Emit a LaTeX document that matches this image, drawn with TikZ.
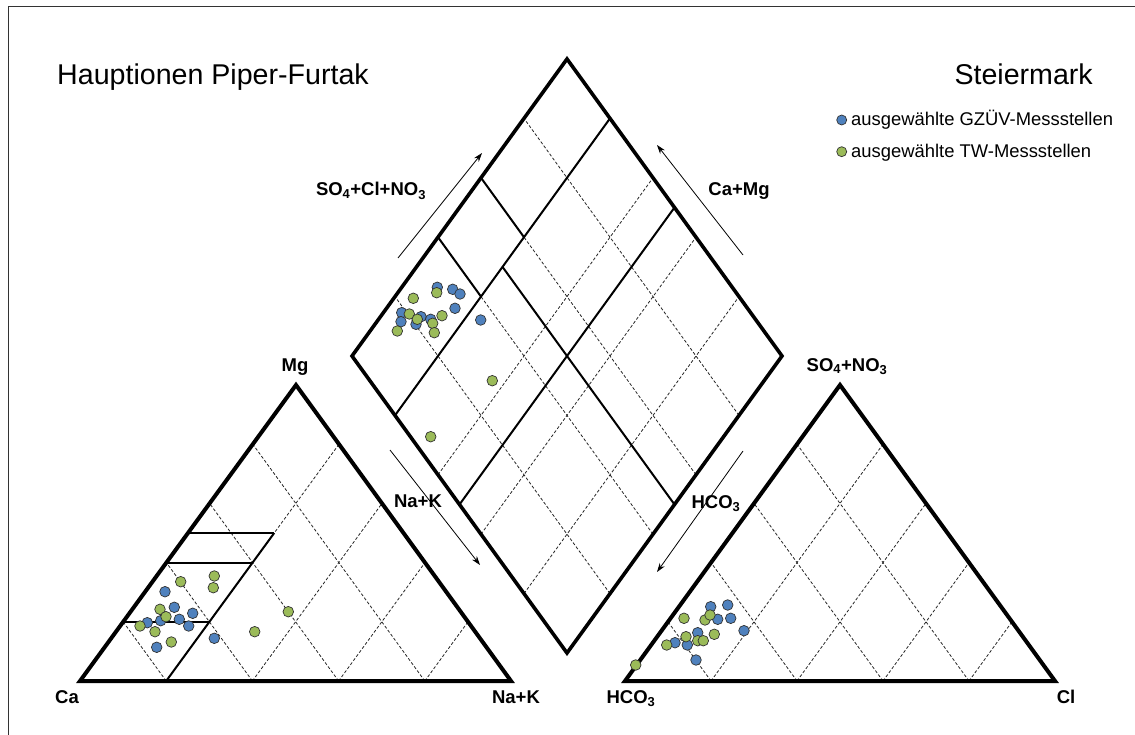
\documentclass[tikz,border=0pt]{standalone}
\usepackage{fontspec}
\setmainfont{Liberation Sans}
\usetikzlibrary{arrows.meta,calc}
\definecolor{gzblue}{HTML}{4F81BD}
\definecolor{twgreen}{HTML}{9BBB59}
\begin{document}
\begin{tikzpicture}[x=1pt,y=-1pt,
  edge/.style={line width=4pt,line join=miter},
  dedge/.style={line width=3.6pt,line join=miter},
  field/.style={line width=2pt},
  gridline/.style={line width=0.8pt,dash pattern=on 3pt off 2pt,black!85},
  axarrow/.style={line width=0.8pt,-{Stealth[length=9pt,width=6pt]}},
  lab/.style={font=\fontsize{18.5}{22}\selectfont\bfseries,inner sep=0pt},
  gz/.style={circle,draw=black!80,line width=0.7pt,fill=gzblue,minimum size=10.6pt,inner sep=0pt},
  tw/.style={circle,draw=black!80,line width=0.7pt,fill=twgreen,minimum size=10.6pt,inner sep=0pt},
  leg/.style={font=\fontsize{18.4}{22}\selectfont,inner sep=0pt,anchor=base west}]
\useasboundingbox (0,0) rectangle (1135,735);
\fill[white] (0,0) rectangle (1135,735);
% frame
\draw[line width=1pt,black!80] (8,735) -- (8,7) -- (1135,7);

% ---------- left triangle (Ca - Na+K - Mg) ----------
\begin{scope}[shift={(80,681)},x={(431pt,0pt)},y={(216pt,296pt)}]
  \coordinate (LA) at (0,0);
  \coordinate (LB) at (1,0);
  \coordinate (LC) at (0,1);
  \foreach \f in {0.2,0.4,0.6,0.8}{
    \draw[gridline] (\f,0) -- (0,\f);
    \draw[gridline] (\f,0) -- (\f,{1-\f});
  }
  \draw[field] (0.2,0) -- (0.2,0.5);
  \draw[field] (0,0.2) -- (0.2,0.2);
  \draw[field] (0,0.4) -- (0.2,0.4);
  \draw[field] (0,0.5) -- (0.2,0.5);
  \draw[edge] (LA) -- (LB) -- (LC) -- cycle;
\end{scope}

% ---------- right triangle (HCO3 - Cl - SO4+NO3) ----------
\begin{scope}[shift={(625,681)},x={(430pt,0pt)},y={(215pt,296pt)}]
  \coordinate (RA) at (0,0);
  \coordinate (RB) at (1,0);
  \coordinate (RC) at (0,1);
  \foreach \f in {0.2,0.4,0.6,0.8}{
    \draw[gridline] (\f,0) -- (0,\f);
    \draw[gridline] (\f,0) -- (\f,{1-\f});
  }
  \draw[edge] (RA) -- (RB) -- (RC) -- cycle;
\end{scope}

% ---------- diamond ----------
\begin{scope}[shift={(567,653)},x={(215pt,297pt)},y={(-215pt,297pt)}]
  \coordinate (DB) at (0,0);
  \coordinate (DR) at (1,0);
  \coordinate (DT) at (1,1);
  \coordinate (DL) at (0,1);
  \foreach \f in {0.2,0.4,0.6,0.8}{
    \draw[gridline] (\f,0) -- (\f,1);
    \draw[gridline] (0,\f) -- (1,\f);
  }
  \draw[field] (0,0.8) -- (1,0.8);
  \draw[field] (0,0.5) -- (1,0.5);
  \draw[field] (0.5,0) -- (0.5,0.8);
  \draw[field] (0.4,0.8) -- (0.4,1);
  \draw[field] (0.6,0.8) -- (0.6,1);
  \draw[dedge] (DB) -- (DR) -- (DT) -- (DL) -- cycle;
\end{scope}

% ---------- axis arrows ----------
\coordinate (a1s) at (398,258); \coordinate (a1e) at (482,153);
\coordinate (a2s) at (743,255); \coordinate (a2e) at (657,145);
\coordinate (a3s) at (390,450); \coordinate (a3e) at (480,565);
\coordinate (a4s) at (743,451); \coordinate (a4e) at (657,572);
\draw[axarrow] (a1s) -- (a1e);
\draw[axarrow] (a2s) -- (a2e);
\draw[axarrow] (a3s) -- (a3e);
\draw[axarrow] (a4s) -- (a4e);

% ---------- labels ----------
\node[lab,anchor=base] (lso4cl) at (371,196) {SO\textsubscript{4}+Cl+NO\textsubscript{3}};
\node[lab,anchor=base] (lcamg) at (739,196) {Ca+Mg};
\node[lab,anchor=base] (lnak) at (418,507) {Na+K};
\node[lab,anchor=base] (lhco3) at (716,508) {HCO\textsubscript{3}};
\node[lab,anchor=base] (lmg) at (295,371) {Mg};
\node[lab,anchor=base] (lca) at (67,703) {Ca};
\node[lab,anchor=base] (lnakb) at (516,703) {Na+K};
\node[lab,anchor=base] (lhco3b) at (631,703) {HCO\textsubscript{3}};
\node[lab,anchor=base] (lcl) at (1066,703) {Cl};
\node[lab,anchor=base] (lso4no3) at (847,371) {SO\textsubscript{4}+NO\textsubscript{3}};

% ---------- title / legend ----------
\node[anchor=base west,font=\fontsize{28.6}{34}\selectfont,inner sep=0pt] (title) at (57,85) {Hauptionen Piper-Furtak};
\node[anchor=base east,font=\fontsize{28.6}{34}\selectfont,inner sep=0pt] (region) at (1093,85) {Steiermark};
\node[gz,minimum size=10pt] (legdot1) at (841.7,120) {};
\node[leg] (legtext1) at (851,126) {ausgewählte GZÜV-Messstellen};
\node[tw,minimum size=10pt] (legdot2) at (841.7,151.7) {};
\node[leg] (legtext2) at (851,158) {ausgewählte TW-Messstellen};

% ---------- data: left triangle ----------
\foreach \px/\py [count=\i] in {165/591.7,174.3/607.3,192.7/613.3,147.3/622.7,160.7/620.7,179.3/619.3,188.7/626,156.7/647.3,214.3/638.3}
  \node[gz] (lb\i) at (\px,\py) {};
\foreach \px/\py [count=\i] in {214.3/576,213.3/587.7,180.7/581.7,160/609.3,166/616.7,140/626,155/631.7,171.3/642,254.7/631.7,288.3/611.7}
  \node[tw] (lg\i) at (\px,\py) {};

% ---------- data: diamond ----------
\foreach \px/\py [count=\i] in {437.3/287.3,452.7/289.3,460/294,455/308.3,401.7/312.7,421/316.7,401/321.7,416/324.3,430.7/319.3,480.7/320}
  \node[gz] (db\i) at (\px,\py) {};
\foreach \px/\py [count=\i] in {436.7/292.7,413.3/298.3,409.3/314,417.3/319.3,432.7/323.3,442/315.7,397.3/331,434.3/332.7,492.3/380.7,430.7/436.7}
  \node[tw] (dg\i) at (\px,\py) {};

% ---------- data: right triangle ----------
\foreach \px/\py [count=\i] in {710.7/606.7,727.7/605,717.7/619.3,730.7/618.3,744/630.7,697.7/632.7,675/642.7,687.3/645,696/660}
  \node[gz] (rb\i) at (\px,\py) {};
\foreach \px/\py [count=\i] in {635.7/665,684/618.3,705/620,710/615,686/636.7,714.3/634.3,666.7/645,697.7/640.7,703.3/640.7}
  \node[tw] (rg\i) at (\px,\py) {};
\end{tikzpicture}
\end{document}
